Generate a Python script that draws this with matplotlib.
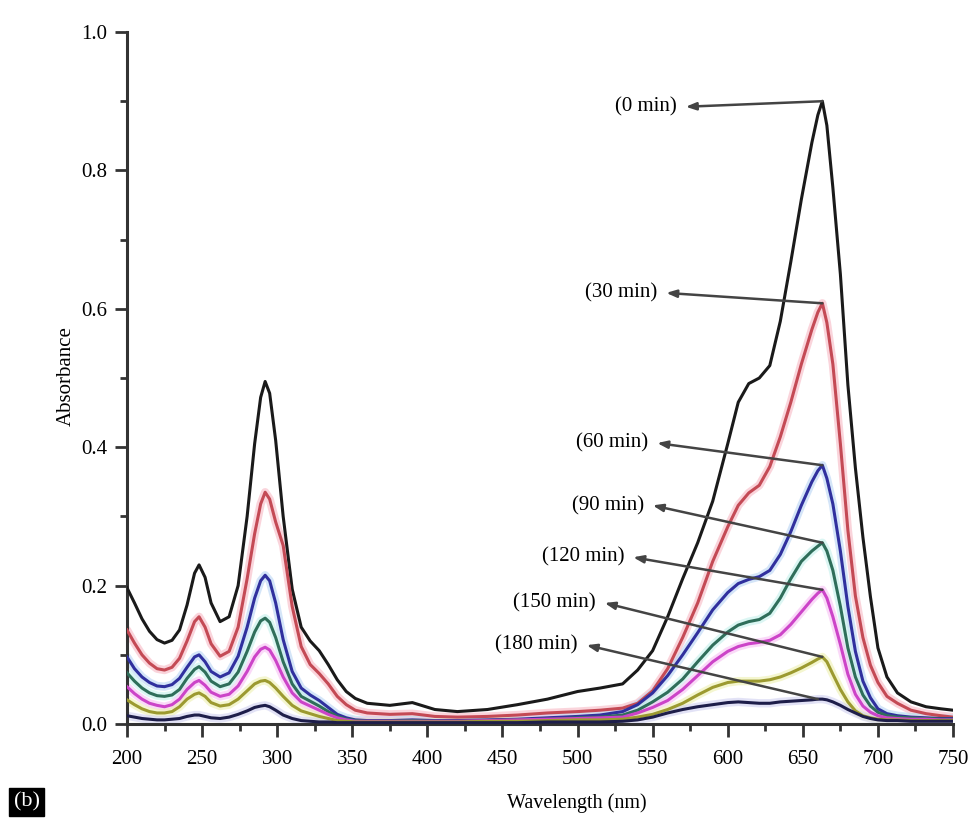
import numpy as np
import matplotlib
matplotlib.use("Agg")
import matplotlib.pyplot as plt
from matplotlib.ticker import MultipleLocator, FormatStrFormatter

plt.rcParams['font.family'] = ['Liberation Serif', 'DejaVu Serif']

# wavelength grid (nm)
wavelength = [200, 205, 210, 215, 220, 225, 230, 235, 240, 245,
              248, 252, 256, 262, 268, 274,
              280, 285, 289, 292, 295, 299,
              304, 310, 316, 322, 328, 334, 340, 346, 352,
              360, 375, 390, 405, 420, 440, 460, 480, 500,
              515, 530, 540, 550, 560, 570, 580, 590, 600,
              607, 614, 621, 628, 635, 642, 649, 656,
              660, 663, 666, 670, 675, 680, 685, 690, 695, 700,
              706, 713, 722, 732, 742, 750]

abs_0 = [0.197, 0.175, 0.152, 0.134, 0.122, 0.117, 0.121, 0.136, 0.172, 0.218,
         0.230, 0.212, 0.175, 0.148, 0.155, 0.200,
         0.300, 0.405, 0.472, 0.495, 0.478, 0.410,
         0.300, 0.195, 0.140, 0.120, 0.106, 0.086, 0.064, 0.047, 0.037,
         0.030, 0.027, 0.031, 0.021, 0.018, 0.021, 0.028, 0.036, 0.047,
         0.052, 0.058, 0.078, 0.106, 0.155, 0.210, 0.262, 0.322, 0.405,
         0.465, 0.492, 0.500, 0.518, 0.582, 0.668, 0.758, 0.840,
         0.880, 0.900, 0.865, 0.775, 0.650, 0.490, 0.370, 0.270, 0.184, 0.110,
         0.068, 0.045, 0.032, 0.025, 0.022, 0.020]

abs_30 = [0.136, 0.117, 0.100, 0.088, 0.080, 0.078, 0.082, 0.095, 0.120, 0.148,
          0.155, 0.140, 0.116, 0.098, 0.105, 0.140,
          0.210, 0.275, 0.318, 0.335, 0.325, 0.292,
          0.258, 0.170, 0.112, 0.086, 0.073, 0.058, 0.040, 0.028, 0.020,
          0.016, 0.014, 0.015, 0.011, 0.010, 0.011, 0.013, 0.016, 0.018,
          0.020, 0.023, 0.030, 0.048, 0.080, 0.125, 0.175, 0.235, 0.285,
          0.316, 0.334, 0.345, 0.372, 0.415, 0.465, 0.520, 0.570,
          0.595, 0.608, 0.580, 0.520, 0.405, 0.280, 0.185, 0.125, 0.085, 0.060,
          0.040, 0.030, 0.020, 0.015, 0.012, 0.010]

abs_60 = [0.097, 0.080, 0.068, 0.060, 0.055, 0.054, 0.057, 0.066, 0.082, 0.097,
          0.100, 0.090, 0.076, 0.068, 0.074, 0.098,
          0.140, 0.182, 0.207, 0.215, 0.207, 0.175,
          0.122, 0.076, 0.052, 0.042, 0.034, 0.024, 0.014, 0.009, 0.006,
          0.005, 0.005, 0.006, 0.005, 0.005, 0.006, 0.007, 0.009, 0.011,
          0.013, 0.018, 0.028, 0.045, 0.070, 0.100, 0.132, 0.165, 0.190,
          0.203, 0.209, 0.213, 0.222, 0.245, 0.278, 0.316, 0.350,
          0.366, 0.374, 0.355, 0.318, 0.250, 0.170, 0.105, 0.062, 0.038, 0.022,
          0.015, 0.012, 0.010, 0.009, 0.008, 0.008]

abs_90 = [0.074, 0.062, 0.052, 0.045, 0.041, 0.040, 0.042, 0.050, 0.066, 0.079,
          0.083, 0.075, 0.062, 0.054, 0.058, 0.075,
          0.105, 0.133, 0.149, 0.153, 0.147, 0.125,
          0.090, 0.058, 0.040, 0.033, 0.026, 0.018, 0.011, 0.007, 0.005,
          0.004, 0.004, 0.005, 0.004, 0.004, 0.005, 0.006, 0.007, 0.009,
          0.010, 0.013, 0.020, 0.032, 0.046, 0.065, 0.090, 0.114, 0.133,
          0.143, 0.148, 0.151, 0.160, 0.182, 0.210, 0.235, 0.250,
          0.257, 0.262, 0.250, 0.222, 0.170, 0.110, 0.068, 0.042, 0.026, 0.017,
          0.012, 0.010, 0.009, 0.008, 0.007, 0.007]

abs_120 = [0.054, 0.044, 0.036, 0.030, 0.027, 0.025, 0.028, 0.036, 0.050, 0.060,
           0.063, 0.056, 0.046, 0.040, 0.043, 0.055,
           0.076, 0.097, 0.108, 0.111, 0.107, 0.092,
           0.068, 0.045, 0.032, 0.026, 0.020, 0.014, 0.009, 0.006, 0.004,
           0.004, 0.004, 0.004, 0.004, 0.004, 0.005, 0.006, 0.007, 0.008,
           0.009, 0.010, 0.016, 0.024, 0.034, 0.050, 0.070, 0.090, 0.105,
           0.112, 0.116, 0.118, 0.121, 0.129, 0.144, 0.162, 0.180,
           0.189, 0.194, 0.182, 0.155, 0.115, 0.072, 0.043, 0.026, 0.017, 0.012,
           0.009, 0.008, 0.007, 0.007, 0.006, 0.006]

abs_150 = [0.035, 0.028, 0.022, 0.018, 0.016, 0.016, 0.018, 0.025, 0.036, 0.043,
           0.045, 0.040, 0.031, 0.026, 0.028, 0.036,
           0.048, 0.058, 0.062, 0.063, 0.060, 0.052,
           0.040, 0.027, 0.019, 0.015, 0.011, 0.008, 0.005, 0.004, 0.003,
           0.003, 0.003, 0.003, 0.003, 0.003, 0.004, 0.004, 0.005, 0.006,
           0.006, 0.007, 0.010, 0.014, 0.021, 0.030, 0.042, 0.053, 0.060,
           0.062, 0.062, 0.062, 0.064, 0.068, 0.074, 0.081, 0.089,
           0.094, 0.097, 0.090, 0.072, 0.050, 0.032, 0.019, 0.012, 0.009, 0.007,
           0.006, 0.006, 0.005, 0.005, 0.005, 0.005]

abs_180 = [0.012, 0.010, 0.008, 0.007, 0.006, 0.006, 0.007, 0.008, 0.011, 0.013,
           0.013, 0.011, 0.009, 0.008, 0.010, 0.014,
           0.019, 0.024, 0.026, 0.027, 0.025, 0.020,
           0.013, 0.008, 0.005, 0.004, 0.003, 0.003, 0.002, 0.002, 0.002,
           0.002, 0.002, 0.002, 0.002, 0.002, 0.002, 0.002, 0.003, 0.003,
           0.003, 0.004, 0.006, 0.010, 0.016, 0.021, 0.025, 0.028, 0.031,
           0.032, 0.031, 0.030, 0.030, 0.032, 0.033, 0.034, 0.035,
           0.036, 0.036, 0.035, 0.032, 0.027, 0.021, 0.016, 0.011, 0.008, 0.006,
           0.005, 0.005, 0.004, 0.004, 0.004, 0.004]

labels = ['(0 min)', '(30 min)', '(60 min)', '(90 min)', '(120 min)', '(150 min)', '(180 min)']
series = [abs_0, abs_30, abs_60, abs_90, abs_120, abs_150, abs_180]
colors = ['#1a1a1a', '#c44a55', '#30309e', '#2f6e5a', '#cc44c8', '#9c9a30', '#1e1e4a']
halos = [None, '#f7b8c4', '#b8d4f4', '#c4f0ec', '#f8c0f4', '#eef0b0', '#d0d0f0']

# label anchor (right edge of text) in data units
label_x = [566, 553, 547, 544, 531, 512, 500]
label_y = [0.892, 0.623, 0.406, 0.316, 0.241, 0.175, 0.114]

fig = plt.figure(figsize=(9.7, 8.21), dpi=100)
ax = fig.add_axes([0.1309, 0.1181, 0.8516, 0.8429])

wl = np.array(wavelength)
for ys, h in zip(series, halos):
    if h:
        ax.plot(wl, ys, color=h, lw=6, alpha=0.6, solid_capstyle='round', zorder=2)
for ys, c in zip(series, colors):
    ax.plot(wl, ys, color=c, lw=2.2, zorder=3)

# arrows from each visible peak to its label
vis = wl > 500
for lab, ys, lx, ly in zip(labels, series, label_x, label_y):
    ys = np.array(ys)
    i = np.argmax(np.where(vis, ys, -1))
    ax.annotate('', xy=(lx + 6, ly), xytext=(wl[i], ys[i]),
                arrowprops=dict(arrowstyle='-|>,head_length=0.6,head_width=0.22',
                                color='#444444', lw=1.8, shrinkA=0, shrinkB=0),
                zorder=4)
    ax.text(lx, ly, lab, ha='right', va='center', fontsize=15, zorder=5)

ax.set_xlim(200, 750)
ax.set_ylim(0, 1.0)
ax.xaxis.set_major_locator(MultipleLocator(50))
ax.xaxis.set_minor_locator(MultipleLocator(25))
ax.yaxis.set_major_locator(MultipleLocator(0.2))
ax.yaxis.set_minor_locator(MultipleLocator(0.1))
ax.yaxis.set_major_formatter(FormatStrFormatter('%.1f'))

for s in ['top', 'right']:
    ax.spines[s].set_visible(False)
for s in ['left', 'bottom']:
    ax.spines[s].set_linewidth(2.2)
    ax.spines[s].set_color('#333333')

ax.tick_params(which='major', length=9, width=2, color='#333333', labelsize=15)
ax.tick_params(which='minor', length=5, width=2, color='#333333')
ax.tick_params(axis='x', which='major', pad=10)
ax.tick_params(axis='y', which='major', pad=5)

ax.set_xlabel('Wavelength (nm)', fontsize=14.5, va='center')
ax.xaxis.set_label_coords(0.545, -0.114)
ax.set_ylabel('Absorbance', fontsize=15, va='center')
ax.yaxis.set_label_coords(-0.074, 0.503)

fig.text(0.014, 0.023, '(b)', color='white', fontsize=16, va='center', ha='left',
         bbox=dict(facecolor='black', edgecolor='black', pad=3))

fig.savefig('out.png', dpi=100)
